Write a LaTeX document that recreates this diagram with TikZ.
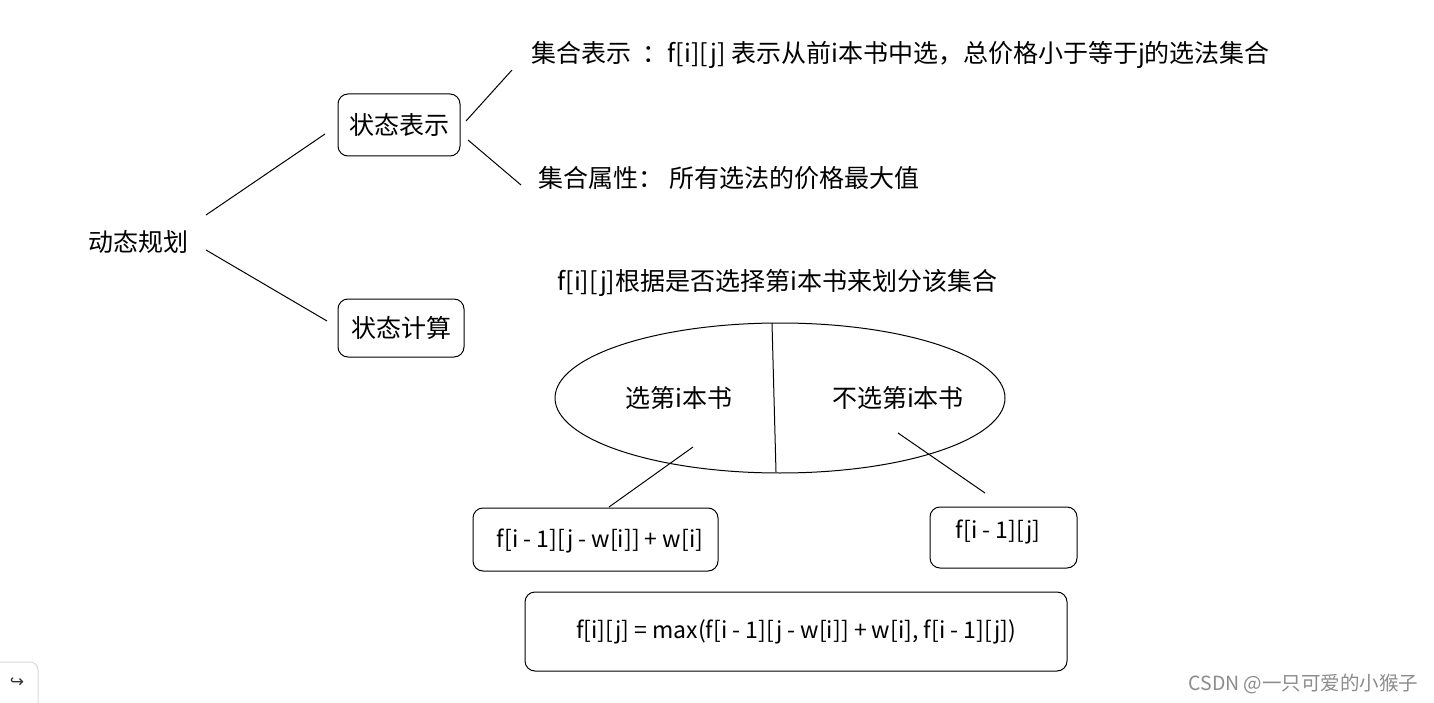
\documentclass[tikz,border=0pt]{standalone}
\usepackage{fontspec}
\setmainfont{Noto Sans CJK SC}
\newfontfamily\symfont{DejaVu Sans}
\usetikzlibrary{shapes.geometric}
\begin{document}
\begin{tikzpicture}[x=1pt,y=-1pt,line width=1pt,
  rbox/.style={draw,rounded corners=10pt,inner sep=0pt},
  txt/.style={font=\fontsize{25}{29}\selectfont,inner sep=0pt,anchor=center},
  ltxt/.style={font=\fontsize{23}{27}\selectfont,inner sep=0pt,anchor=center},
  conn/.style={draw,line width=1pt}]
\useasboundingbox (0,0) rectangle (1434,703);
\fill[white] (0,0) rectangle (1434,703);

% left part
\node[txt] (dp) at (138,242) {动态规划};
\node[rbox,txt,minimum width=122pt,minimum height=62pt] (s1) at (399,125) {状态表示};
\node[rbox,txt,minimum width=126pt,minimum height=58pt] (s2) at (401,328) {状态计算};

\coordinate (dp1) at (206,215);
\coordinate (dp2) at (206,250);
\coordinate (s1w) at (325,134);
\coordinate (s2w) at (327,321);
\draw[conn] (dp1) -- (s1w);
\draw[conn] (dp2) -- (s2w);

\node[txt,anchor=west] (t1) at (531,55) {集合表示\ \ ：f[i][j] 表示从前i本书中选，总价格小于等于j的选法集合};
\node[txt,anchor=west] (t2) at (538,178) {集合属性： 所有选法的价格最大值};
\coordinate (s1a) at (466,121);
\coordinate (t1a) at (512,70);
\coordinate (s1b) at (468,140);
\coordinate (t2a) at (521,185);
\draw[conn] (s1a) -- (t1a);
\draw[conn] (s1b) -- (t2a);

% set partition
\node[txt,anchor=west] (t3) at (557,283) {f[i][j]根据是否选择第i本书来划分该集合};
\node[draw,ellipse,minimum width=450pt,minimum height=150pt,inner sep=0pt] (el) at (780,398) {};
\coordinate (vtop) at (772,323);
\coordinate (vbot) at (776,472);
\draw[conn] (vtop) -- (vbot);
\node[txt] (l) at (679,398) {选第i本书};
\node[txt] (r) at (898,398) {不选第i本书};

\node[rbox,minimum width=245pt,minimum height=63pt] (b1) at (595.5,539.5) {};
\node[ltxt] (b1t) at (600,541) {f[i - 1][j - w[i]] + w[i]};
\node[rbox,minimum width=147pt,minimum height=61pt] (b2) at (1003.5,537.5) {};
\node[ltxt] (b2t) at (998,532) {f[i - 1][j]};
\node[rbox,ltxt,minimum width=542pt,minimum height=79pt] (b3) at (796,631.5) {f[i][j] = max(f[i - 1][j - w[i]] + w[i], f[i - 1][j])};

\coordinate (la) at (693,447);
\coordinate (lb) at (609,507);
\coordinate (ra) at (898,433);
\coordinate (rb) at (985,493);
\draw[conn] (la) -- (lb);
\draw[conn] (ra) -- (rb);

% UI remnants
\draw[black!15,line width=1pt,rounded corners=8pt] (-10,662) -- (38,662) -- (38,710);
\node[inner sep=0pt,font=\symfont\fontsize{17}{19}\selectfont,text=black!80] (ic) at (17,683) {↪};
\node[inner sep=0pt,anchor=west,font=\fontsize{19.5}{22}\selectfont,text=black!45] (wm) at (1188,684) {CSDN @一只可爱的小猴子};
\end{tikzpicture}
\end{document}
